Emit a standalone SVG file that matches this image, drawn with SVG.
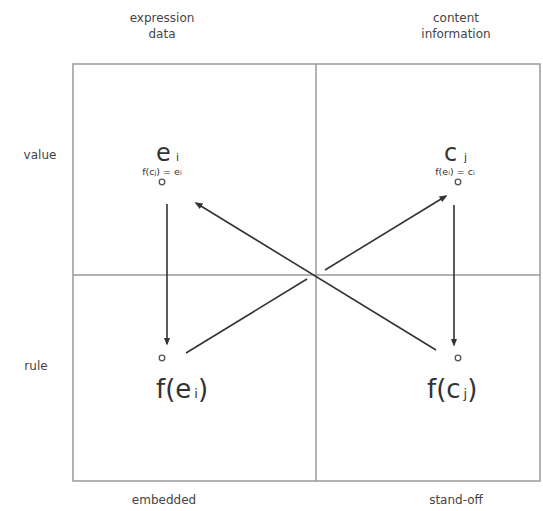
<svg xmlns="http://www.w3.org/2000/svg" width="543" height="511" viewBox="0 0 543 511">
<defs>
<style>
.lbl{font-family:"DejaVu Sans",sans-serif;font-size:12px;fill:#444;text-anchor:middle}
.big{font-family:"DejaVu Sans",sans-serif;font-size:24px;fill:#333}
.fn{font-family:"DejaVu Sans",sans-serif;font-size:26px;fill:#333}
.sub{font-family:"DejaVu Sans",sans-serif;font-size:11px;fill:#333}
.small{font-family:"DejaVu Sans",sans-serif;font-size:9.5px;fill:#333;text-anchor:middle}
.grid{stroke:#999;stroke-width:1.5;fill:none}
.arr{stroke:#333;stroke-width:1.6;fill:none;marker-end:url(#ah)}
.pt{fill:#fff;stroke:#555;stroke-width:1.3}
</style>
<marker id="ah" viewBox="0 0 10 10" refX="8" refY="5" markerWidth="5" markerHeight="5" orient="auto" markerUnits="strokeWidth">
<path d="M0,1 L10,5 L0,9 z" fill="#333"/>
</marker>
</defs>
<rect width="543" height="511" fill="#fff"/>
<g id="grid">
<rect class="grid" x="73" y="64" width="467" height="417"/>
<line class="grid" x1="316" y1="64" x2="316" y2="481"/>
<line class="grid" x1="73" y1="275" x2="540" y2="275"/>
</g>
<g id="labels">
<text class="lbl" x="162" y="22">expression</text>
<text class="lbl" x="162" y="38">data</text>
<text class="lbl" x="456" y="22">content</text>
<text class="lbl" x="456" y="38">information</text>
<text class="lbl" x="40" y="159">value</text>
<text class="lbl" x="36" y="370">rule</text>
<text class="lbl" x="164" y="504">embedded</text>
<text class="lbl" x="456" y="504">stand-off</text>
</g>
<g id="node-ei">
<text class="big" x="156" y="161">e</text><text class="sub" x="176" y="161">i</text>
<text class="small" x="162" y="175">f(c<tspan font-size="6.5">j</tspan>) = e<tspan font-size="6.5">i</tspan></text>
<circle class="pt" cx="162" cy="182" r="2.8"/>
</g>
<g id="node-cj">
<text class="big" x="444" y="161">c</text><text class="sub" x="464" y="161">j</text>
<text class="small" x="455" y="175">f(e<tspan font-size="6.5">i</tspan>) = c<tspan font-size="6.5">i</tspan></text>
<circle class="pt" cx="458" cy="182" r="2.8"/>
</g>
<g id="node-fei">
<circle class="pt" cx="162" cy="358" r="2.8"/>
<text class="fn" x="156" y="398">f(e<tspan font-size="13" dx="3">i</tspan>)</text>
</g>
<g id="node-fcj">
<circle class="pt" cx="458" cy="358" r="2.8"/>
<text class="fn" x="427" y="398">f(c<tspan font-size="13" dx="3">j</tspan>)</text>
</g>
<g id="connectors">
<line class="arr" x1="167" y1="204" x2="167" y2="344"/>
<line class="arr" x1="454" y1="205" x2="454" y2="345"/>
<line class="arr" x1="436" y1="350" x2="196" y2="203"/>
<line stroke="#333" stroke-width="1.6" x1="186" y1="353" x2="307" y2="279"/>
<line class="arr" x1="325" y1="270" x2="446" y2="196"/>
</g>
</svg>
